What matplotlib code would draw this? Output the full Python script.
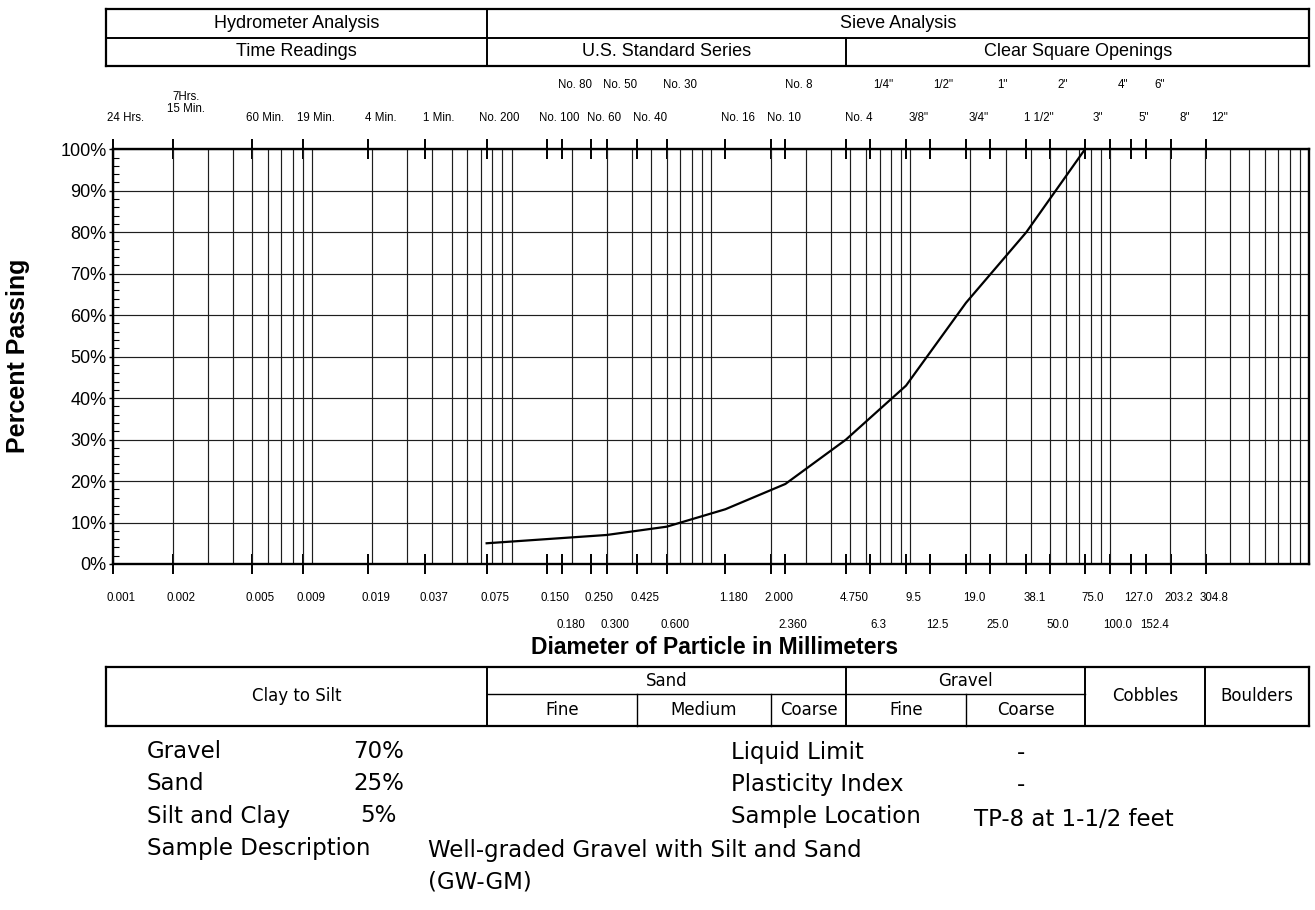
import numpy as np
import matplotlib
matplotlib.use("Agg")
import matplotlib.pyplot as plt
import matplotlib.transforms as mtransforms
from matplotlib.lines import Line2D
from matplotlib import font_manager
from matplotlib.ticker import FixedLocator, LogLocator, MultipleLocator, NullFormatter

# ---------------- data ----------------
grain_size_mm = [0.075, 0.15, 0.3, 0.6, 1.18, 2.36, 4.75, 9.5, 19.0, 38.1, 75.0]
percent_passing = [5, 6, 7, 9, 13.2, 19.3, 30, 43, 63, 80, 100]

# sieve openings labelled next to the plot frame
near_sizes = [0.001, 0.002, 0.005, 0.009, 0.019, 0.037, 0.075, 0.150, 0.250, 0.425,
              1.180, 2.000, 4.750, 9.5, 19.0, 38.1, 75.0, 127.0, 203.2, 304.8]
near_mm_labels = ["0.001", "0.002", "0.005", "0.009", "0.019", "0.037", "0.075", "0.150",
                  "0.250", "0.425", "1.180", "2.000", "4.750", "9.5", "19.0", "38.1",
                  "75.0", "127.0", "203.2", "304.8"]
near_names = ["24 Hrs.", "7Hrs.\n15 Min.", "60 Min.", "19 Min.", "4 Min.", "1 Min.",
              "No. 200", "No. 100", "No. 60", "No. 40", "No. 16", "No. 10", "No. 4",
              '3/8"', '3/4"', '1 1/2"', '3"', '5"', '8"', '12"']

# sieve openings labelled on the outer row
far_sizes = [0.180, 0.300, 0.600, 2.360, 6.3, 12.5, 25.0, 50.0, 100.0, 152.4]
far_mm_labels = ["0.180", "0.300", "0.600", "2.360", "6.3", "12.5", "25.0", "50.0",
                 "100.0", "152.4"]
far_names = ["No. 80", "No. 50", "No. 30", "No. 8", '1/4"', '1/2"', '1"', '2"', '4"', '6"']

percent_ticks = list(range(0, 101, 10))
percent_labels = [f"{p}%" for p in percent_ticks]

# soil classification boundaries (mm)
fines_limit = 0.075
fine_medium_sand = 0.425
medium_coarse_sand = 2.0
sand_gravel = 4.75
fine_coarse_gravel = 19.0
gravel_cobble = 75.0
cobble_boulder = 300.0

gravel_pct, sand_pct, fines_pct = 70, 25, 5
liquid_limit = "-"
plasticity_index = "-"
sample_location = "TP-8 at 1-1/2 feet"
sample_description = ["Well-graded Gravel with Silt and Sand", "(GW-GM)"]

# ---------------- fonts ----------------
available = {f.name for f in font_manager.fontManager.ttflist}
SANS = "Liberation Sans" if "Liberation Sans" in available else "DejaVu Sans"
WIDE = "DejaVu Sans"

# ---------------- figure layout (pixels) ----------------
W, H = 1315, 910
fig = plt.figure(figsize=(W / 100, H / 100), dpi=100)


def box(left, top, right, bottom):
    return [left / W, 1 - bottom / H, (right - left) / W, (bottom - top) / H]


def fy(ypx):
    return 1 - ypx / H


AX_L, AX_T, AX_R, AX_B = 112.7, 149.3, 1309.3, 564.0
ax = fig.add_axes(box(AX_L, AX_T, AX_R, AX_B))
ax.set_xscale("log")
ax.set_xlim(1e-3, 1e3)
ax.set_ylim(0, 100)

ax.plot(grain_size_mm, percent_passing, color="black", lw=1.6, zorder=5,
        solid_joinstyle="miter")

all_sizes = sorted(near_sizes + far_sizes)
ax.xaxis.set_major_locator(FixedLocator(all_sizes))
ax.xaxis.set_major_formatter(NullFormatter())
ax.xaxis.set_minor_locator(LogLocator(base=10, subs=np.arange(1, 10), numticks=200))
ax.xaxis.set_minor_formatter(NullFormatter())
ax.xaxis.remove_overlapping_locs = False
ax.tick_params(axis="x", which="major", direction="inout", length=14, width=1.4,
               top=True, bottom=True, labelbottom=False, labeltop=False)
ax.tick_params(axis="x", which="minor", length=0, top=False, bottom=False)
ax.grid(True, axis="x", which="minor", color="#1e1e1e", lw=0.85)

ax.set_yticks(percent_ticks)
ax.set_yticklabels(percent_labels, fontsize=13, family=SANS)
ax.yaxis.set_minor_locator(MultipleLocator(2))
ax.tick_params(axis="y", which="major", direction="out", length=3, width=1.0, pad=1.5)
ax.tick_params(axis="y", which="minor", direction="in", length=4, width=0.8)
ax.grid(True, axis="y", which="major", color="#1e1e1e", lw=0.85)
for sp in ax.spines.values():
    sp.set_linewidth(1.7)

fig.text(18 / W, fy(356), "Percent Passing", rotation=90, ha="center", va="center",
         fontsize=18, fontweight="bold", family=SANS)
fig.text((AX_L + AX_R) / 2 / W + 4 / W, fy(648), "Diameter of Particle in Millimeters",
         ha="center", va="center", fontsize=16.5, fontweight="bold", family=SANS)

# ---------------- sieve labels ----------------
xfig = mtransforms.blended_transform_factory(ax.transData, fig.transFigure)
top_tr = mtransforms.offset_copy(xfig, fig=fig, x=13, y=0, units="dots")
bot_tr = mtransforms.offset_copy(xfig, fig=fig, x=8, y=0, units="dots")
lab_kw = dict(ha="center", va="center", fontsize=8.3, family=SANS)

for s, name in zip(near_sizes, near_names):
    if "\n" in name:
        fig.text(s, fy(103), name, transform=top_tr, linespacing=1.05, **lab_kw)
    else:
        fig.text(s, fy(118), name, transform=top_tr, **lab_kw)
for s, name in zip(far_sizes, far_names):
    fig.text(s, fy(85), name, transform=top_tr, **lab_kw)
for s, lab in zip(near_sizes, near_mm_labels):
    fig.text(s, fy(598), lab, transform=bot_tr, **lab_kw)
for s, lab in zip(far_sizes, far_mm_labels):
    fig.text(s, fy(625), lab, transform=bot_tr, **lab_kw)

# ---------------- header and classification tables ----------------
TBL_LEFT = 0.00093
TBL_RIGHT = 1000.0


def hline(x0, x1, ypx, lw=1.4):
    fig.lines.append(Line2D([x0, x1], [fy(ypx), fy(ypx)], transform=xfig,
                            color="black", lw=lw, figure=fig))


def vline(x, y0px, y1px, lw=1.4):
    fig.lines.append(Line2D([x, x], [fy(y0px), fy(y1px)], transform=xfig,
                            color="black", lw=lw, figure=fig))


def cell_text(x0, x1, ypx, text, size, family):
    fig.text(np.sqrt(x0 * x1), fy(ypx), text, transform=xfig, ha="center",
             va="center", fontsize=size, family=family)


# header
HT, HM, HB = 9, 38, 66
hline(TBL_LEFT, TBL_RIGHT, HT, 1.6)
hline(TBL_LEFT, TBL_RIGHT, HM, 1.4)
hline(TBL_LEFT, TBL_RIGHT, HB, 1.6)
vline(TBL_LEFT, HT, HB, 1.6)
vline(TBL_RIGHT, HT, HB, 1.6)
vline(fines_limit, HT, HB, 1.4)
vline(sand_gravel, HM, HB, 1.4)
cell_text(TBL_LEFT, fines_limit, (HT + HM) / 2, "Hydrometer Analysis", 13, SANS)
cell_text(fines_limit, TBL_RIGHT, (HT + HM) / 2, "Sieve Analysis", 13, SANS)
cell_text(TBL_LEFT, fines_limit, (HM + HB) / 2, "Time Readings", 13, SANS)
cell_text(fines_limit, sand_gravel, (HM + HB) / 2, "U.S. Standard Series", 13, SANS)
cell_text(sand_gravel, TBL_RIGHT, (HM + HB) / 2, "Clear Square Openings", 13, SANS)

# classification
CT, CM, CB = 666.7, 694.3, 725.7
hline(TBL_LEFT, TBL_RIGHT, CT, 1.6)
hline(TBL_LEFT, TBL_RIGHT, CB, 1.6)
hline(fines_limit, gravel_cobble, CM, 1.0)
vline(TBL_LEFT, CT, CB, 1.6)
vline(TBL_RIGHT, CT, CB, 1.6)
for b in [fines_limit, sand_gravel, gravel_cobble, cobble_boulder]:
    vline(b, CT, CB, 1.4)
for b in [fine_medium_sand, medium_coarse_sand, fine_coarse_gravel]:
    vline(b, CM, CB, 1.0)
TS = 12
cell_text(TBL_LEFT, fines_limit, (CT + CB) / 2, "Clay to Silt", TS, WIDE)
cell_text(fines_limit, sand_gravel, (CT + CM) / 2, "Sand", TS, WIDE)
cell_text(sand_gravel, gravel_cobble, (CT + CM) / 2, "Gravel", TS, WIDE)
cell_text(fines_limit, fine_medium_sand, (CM + CB) / 2, "Fine", TS, WIDE)
cell_text(fine_medium_sand, medium_coarse_sand, (CM + CB) / 2, "Medium", TS, WIDE)
cell_text(medium_coarse_sand, sand_gravel, (CM + CB) / 2, "Coarse", TS, WIDE)
cell_text(sand_gravel, fine_coarse_gravel, (CM + CB) / 2, "Fine", TS, WIDE)
cell_text(fine_coarse_gravel, gravel_cobble, (CM + CB) / 2, "Coarse", TS, WIDE)
cell_text(gravel_cobble, cobble_boulder, (CT + CB) / 2, "Cobbles", TS, WIDE)
cell_text(cobble_boulder, TBL_RIGHT, (CT + CB) / 2, "Boulders", TS, WIDE)

# ---------------- sample summary ----------------
SS = 16.5
rows_y = [752, 784, 816, 848, 882]
summary_left = [("Gravel", f"{gravel_pct}%", 404), ("Sand", f"{sand_pct}%", 404),
                ("Silt and Clay", f"{fines_pct}%", 397)]
for (name, val, xr), y in zip(summary_left, rows_y):
    fig.text(147 / W, fy(y), name, ha="left", va="center", fontsize=SS, family=WIDE)
    fig.text(xr / W, fy(y), val, ha="right", va="center", fontsize=SS, family=WIDE)
fig.text(147 / W, fy(rows_y[3]), "Sample Description", ha="left", va="center",
         fontsize=SS, family=WIDE)
fig.text(428 / W, fy(rows_y[3] + 3), sample_description[0], ha="left", va="center",
         fontsize=SS, family=WIDE)
fig.text(428 / W, fy(rows_y[4]), sample_description[1], ha="left", va="center",
         fontsize=SS, family=WIDE)

summary_right = [("Liquid Limit", liquid_limit), ("Plasticity Index", plasticity_index),
                 ("Sample Location", sample_location)]
for (name, val), y in zip(summary_right, rows_y):
    fig.text(731 / W, fy(y), name, ha="left", va="center", fontsize=SS, family=WIDE)
    x_val = 974 / W if len(val) > 1 else 1017 / W
    fig.text(x_val, fy(y + (3 if len(val) > 1 else 0)), val, ha="left", va="center",
             fontsize=SS, family=WIDE)

fig.savefig("out.png", dpi=100, facecolor="white")
